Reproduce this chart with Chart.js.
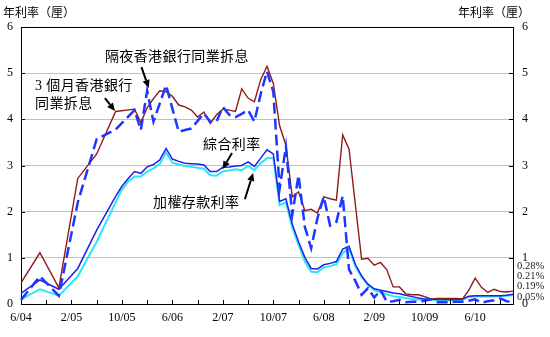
<!DOCTYPE html>
<html>
<head>
<meta charset="utf-8">
<script src="https://cdn.jsdelivr.net/npm/chart.js@4.4.1/dist/chart.umd.min.js"></script>
<style>
  html, body { margin: 0; padding: 0; background: #fff; }
  canvas { display: block; }
</style>
</head>
<body>
<canvas id="chart" width="550" height="337"></canvas>
<script>
// Month-end observations, June 2004 to December 2010
const months = [
  '6/04','7/04','8/04','9/04','10/04','11/04','12/04',
  '1/05','2/05','3/05','4/05','5/05','6/05','7/05','8/05','9/05','10/05','11/05','12/05',
  '1/06','2/06','3/06','4/06','5/06','6/06','7/06','8/06','9/06','10/06','11/06','12/06',
  '1/07','2/07','3/07','4/07','5/07','6/07','7/07','8/07','9/07','10/07','11/07','12/07',
  '1/08','2/08','3/08','4/08','5/08','6/08','7/08','8/08','9/08','10/08','11/08','12/08',
  '1/09','2/09','3/09','4/09','5/09','6/09','7/09','8/09','9/09','10/09','11/09','12/09',
  '1/10','2/10','3/10','4/10','5/10','6/10','7/10','8/10','9/10','10/10','11/10','12/10'
];
const xTickLabels = ['6/04','2/05','10/05','6/06','2/07','10/07','6/08','2/09','10/09','6/10'];
const yTicks = [0, 1, 2, 3, 4, 5, 6];

// 3-month HIBOR (% p.a.)
const hibor3m = [
  0.46, null, null, 1.11, null, null, 0.35,
  null, null, 2.72, null, null, 3.25, null, null, 4.17, null, null, 4.22,
  3.93, 4.25, 4.45, 4.62, 4.60, 4.50, 4.31, 4.27, 4.20, 4.05, 4.16, 3.91,
  4.10, 4.22, 4.20, 4.17, 4.66, 4.46, 4.38, 4.86, 5.15, 4.78, 3.86, 3.44,
  2.32, 2.43, 2.02, 2.05, 1.97, 2.32, 2.28, 2.25, 3.66, 3.36, null, 0.97,
  0.99, 0.84, 0.90, 0.74, 0.37, 0.37, 0.22, 0.20, 0.20, 0.16, 0.11, 0.12,
  0.12, 0.12, 0.12, 0.11, 0.30, 0.56, 0.36, 0.25, 0.32, 0.27, 0.26, 0.28
];
// Overnight HIBOR (% p.a.)
const hiborOvernight = [
  0.09, null, null, 0.60, null, null, 0.18,
  null, null, 2.20, null, null, 3.57, null, null, 3.78, null, null, 4.20,
  3.77, 4.62, 3.95, null, 4.74, null, 3.73, 3.77, 3.80, null, 4.13, 3.95,
  3.95, 4.27, 4.10, 4.05, 4.12, 4.20, 3.95, 4.55, 5.04, 4.60, 2.50, 3.41,
  1.93, 2.79, 1.67, 1.21, 1.86, 2.32, 1.70, 1.78, 2.34, 0.75, 0.50, 0.20,
  0.34, 0.14, 0.30, 0.05, 0.06, 0.09, 0.04, 0.05, 0.05, 0.07, 0.10, 0.04,
  0.04, 0.04, 0.05, 0.05, 0.07, 0.10, 0.03, 0.06, 0.08, 0.12, 0.06, 0.05
];
// Composite interest rate (% p.a.)
const compositeRate = [
  0.23, null, null, 0.52, null, null, 0.32,
  null, null, 0.77, null, null, 1.60, null, null, 2.33, 2.55, 2.72, 2.87,
  2.83, 2.97, 3.02, 3.12, 3.37, 3.14, 3.09, 3.05, 3.04, 3.03, 3.01, 2.87,
  2.87, 2.96, 2.97, 2.99, 3.00, 3.08, 2.98, 3.16, 3.34, 3.25, 2.22, 2.28,
  1.73, 1.35, 1.01, 0.77, 0.76, 0.85, 0.88, 0.92, 1.19, 1.25, 0.86, 0.61,
  0.43, 0.33, 0.30, 0.27, 0.24, 0.22, 0.19, 0.16, 0.13, 0.11, 0.11, 0.10,
  0.10, 0.10, 0.10, 0.11, 0.17, 0.18, 0.18, 0.18, 0.18, 0.18, 0.19, 0.21
];
// Weighted deposit rate (% p.a.)
const depositRate = [
  0.10, null, null, 0.32, null, null, 0.18,
  null, null, 0.60, null, null, 1.35, null, null, 2.20, 2.48, 2.65, 2.76,
  2.76, 2.87, 2.94, 3.03, 3.28, 3.06, 3.02, 2.99, 2.97, 2.95, 2.93, 2.79,
  2.78, 2.87, 2.89, 2.92, 2.90, 2.99, 2.90, 3.05, 3.16, 3.16, 2.14, 2.20,
  1.66, 1.28, 0.92, 0.70, 0.69, 0.79, 0.82, 0.86, 1.10, 1.21, 0.81, 0.58,
  0.41, 0.30, 0.25, 0.21, 0.17, 0.15, 0.13, 0.11, 0.10, 0.09, 0.09, 0.08,
  0.08, 0.08, 0.08, 0.09, 0.15, 0.16, 0.16, 0.16, 0.16, 0.17, 0.18, 0.19
];

const colors = {
  hibor3m: '#8e1b1b',
  overnight: '#1c38ff',
  composite: '#1f1fee',
  deposit: '#2ee6f2'
};

const CJK = "'Liberation Serif', 'Noto Sans CJK TC', sans-serif";
const SERIF = "'Liberation Serif', 'Times New Roman', serif";

// Callout texts and arrows, placed in data units (month index, % p.a.)
const callouts = [
  { lines: ['隔夜香港銀行同業拆息'], at: [13.3, 5.35] },
  { lines: ['3 個月香港銀行', '同業拆息'], at: [2.22, 4.72] },
  { lines: ['綜合利率'], at: [28.85, 3.44] },
  { lines: ['加權存款利率'], at: [20.93, 2.19] }
];
const arrows = [
  { from: [19.1, 5.13], to: [20.25, 4.68] },
  { from: [13.3, 4.46], to: [14.9, 4.18] },
  { from: [33.45, 3.27], to: [31.95, 2.92] },
  { from: [35.5, 2.27], to: [36.8, 2.84] }
];

function drawArrow(ctx, x1, y1, x2, y2) {
  const ang = Math.atan2(y2 - y1, x2 - x1);
  const headLen = 8, headW = 3.6;
  const bx = x2 - headLen * Math.cos(ang), by = y2 - headLen * Math.sin(ang);
  ctx.beginPath();
  ctx.moveTo(x1, y1);
  ctx.lineTo(bx, by);
  ctx.stroke();
  ctx.beginPath();
  ctx.moveTo(x2, y2);
  ctx.lineTo(bx + headW * Math.sin(ang), by - headW * Math.cos(ang));
  ctx.lineTo(bx - headW * Math.sin(ang), by + headW * Math.cos(ang));
  ctx.closePath();
  ctx.fill();
}

const decorations = {
  id: 'decorations',
  afterDraw(chart) {
    const { ctx, chartArea: a, scales } = chart;
    const x = scales.x, y = scales.y;
    ctx.save();

    // inward tick marks
    ctx.strokeStyle = '#000';
    ctx.lineWidth = 1;
    ctx.beginPath();
    for (let i = 0; i < months.length; i += 4) {
      const px = Math.round(x.getPixelForValue(i)) + 0.5;
      ctx.moveTo(px, a.bottom);
      ctx.lineTo(px, a.bottom - 4);
    }
    yTicks.forEach(v => {
      const py = Math.round(y.getPixelForValue(v)) + 0.5;
      ctx.moveTo(a.left, py); ctx.lineTo(a.left + 4, py);
      ctx.moveTo(a.right, py); ctx.lineTo(a.right - 4, py);
    });
    ctx.stroke();

    // axis unit titles
    ctx.fillStyle = '#000';
    ctx.font = "12px 'Noto Sans CJK TC', sans-serif";
    ctx.textBaseline = 'middle';
    ctx.textAlign = 'left';
    ctx.fillText('年利率（厘）', 3, a.top - 15);
    ctx.fillText('年利率（厘）', a.right - 55, a.top - 15);

    // callout texts
    ctx.font = '14px ' + CJK;
    ctx.letterSpacing = '0.4px';
    callouts.forEach(c => {
      const px = x.getPixelForValue(c.at[0]);
      const py = y.getPixelForValue(c.at[1]);
      c.lines.forEach((t, k) => ctx.fillText(t, px, py + k * 18));
    });
    ctx.letterSpacing = '0px';

    // arrows
    ctx.strokeStyle = '#000';
    ctx.fillStyle = '#000';
    ctx.lineWidth = 2;
    arrows.forEach(ar => {
      drawArrow(ctx,
        x.getPixelForValue(ar.from[0]), y.getPixelForValue(ar.from[1]),
        x.getPixelForValue(ar.to[0]), y.getPixelForValue(ar.to[1]));
    });

    // latest values beside the right axis
    const last = [hibor3m, compositeRate, depositRate, hiborOvernight]
      .map(s => s[s.length - 1]);
    ctx.font = '10.5px ' + SERIF;
    ctx.fillStyle = '#1a1a1a';
    const base = y.getPixelForValue(0) - 7;
    last.forEach((v, k) => {
      ctx.fillText(v.toFixed(2) + '%', a.right + 4, base - (last.length - 1 - k) * 10.3);
    });

    ctx.restore();
  }
};

const lineBase = { pointRadius: 0, pointHoverRadius: 0, tension: 0, spanGaps: true, fill: false };

new Chart(document.getElementById('chart'), {
  type: 'line',
  data: {
    labels: months,
    datasets: [
      Object.assign({ label: '隔夜香港銀行同業拆息', data: hiborOvernight, borderColor: colors.overnight,
        borderWidth: 2.5, borderDash: [11, 5], order: 0 }, lineBase),
      Object.assign({ label: '3 個月香港銀行同業拆息', data: hibor3m, borderColor: colors.hibor3m,
        borderWidth: 1.4, order: 1 }, lineBase),
      Object.assign({ label: '綜合利率', data: compositeRate, borderColor: colors.composite,
        borderWidth: 1.5, order: 2 }, lineBase),
      Object.assign({ label: '加權存款利率', data: depositRate, borderColor: colors.deposit,
        borderWidth: 2, order: 3 }, lineBase)
    ]
  },
  options: {
    responsive: false,
    animation: false,
    events: [],
    layout: { padding: { top: 27, left: 0, right: 0, bottom: 0 } },
    plugins: { legend: { display: false }, tooltip: { enabled: false } },
    scales: {
      x: {
        type: 'category',
        offset: false,
        grid: { display: false, drawTicks: false },
        border: { display: true, color: '#000', width: 1 },
        ticks: {
          autoSkip: false, maxRotation: 0, minRotation: 0, padding: 7,
          color: '#000', font: { family: SERIF, size: 12 },
          callback(value) {
            const l = this.getLabelForValue(value);
            return xTickLabels.includes(l) ? l : '';
          }
        },
        afterFit(s) { s.height = 33; }
      },
      y: {
        position: 'left', min: 0, max: 6,
        afterBuildTicks(s) { s.ticks = yTicks.map(v => ({ value: v })); },
        ticks: { padding: 8, color: '#000', font: { family: SERIF, size: 12 } },
        grid: {
          drawTicks: false, lineWidth: 1,
          color: c => (c.tick && (c.tick.value === 0 || c.tick.value === 6)) ? '#000' : '#c0c0c0'
        },
        border: { display: true, color: '#000', width: 1 },
        afterFit(s) { s.width = 21; }
      },
      y2: {
        position: 'right', min: 0, max: 6,
        afterBuildTicks(s) { s.ticks = yTicks.map(v => ({ value: v })); },
        ticks: { padding: 9, color: '#000', font: { family: SERIF, size: 12 } },
        grid: { display: false, drawTicks: false },
        border: { display: true, color: '#000', width: 1 },
        afterFit(s) { s.width = 37; }
      }
    }
  },
  plugins: [decorations]
});
</script>
</body>
</html>
